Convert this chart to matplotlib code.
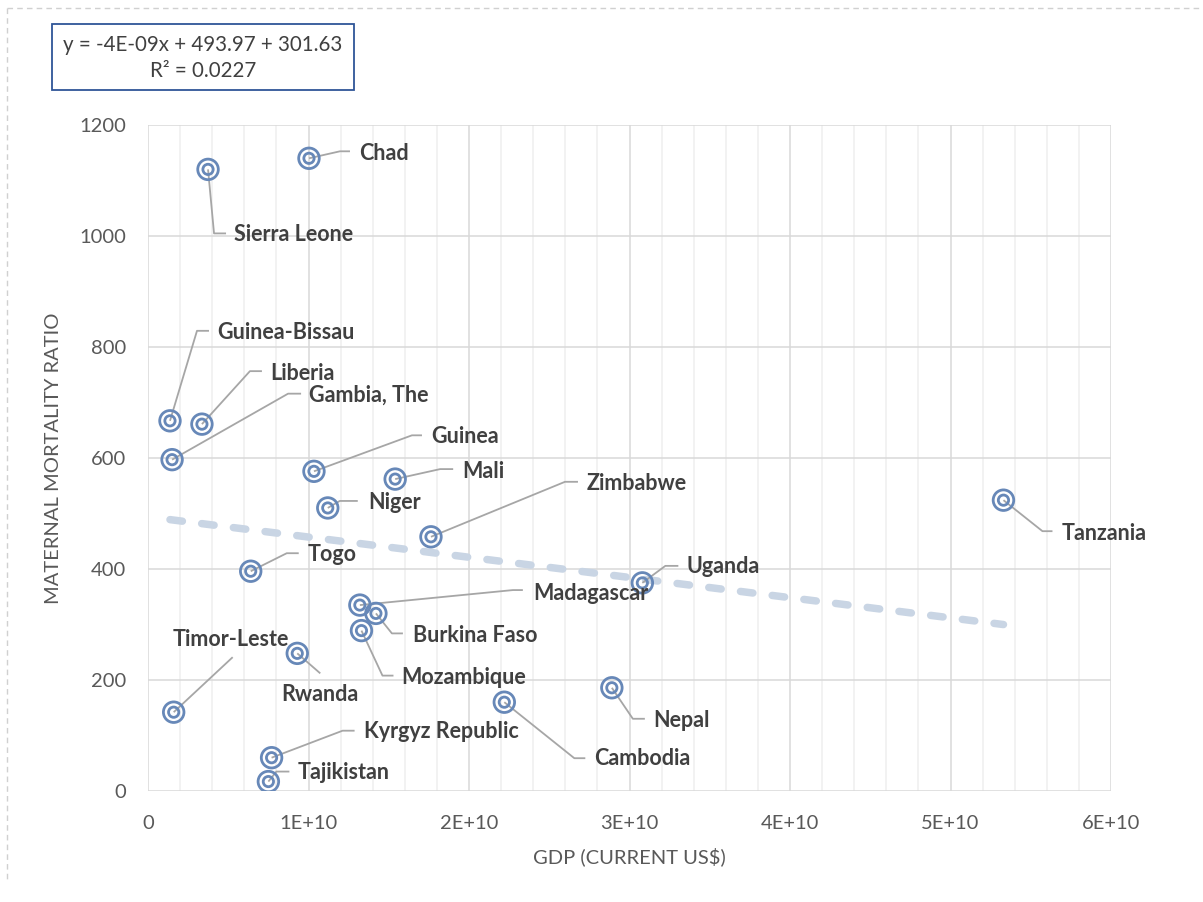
import numpy as np
import matplotlib
matplotlib.use("Agg")
import matplotlib.pyplot as plt
from matplotlib.lines import Line2D
from matplotlib.ticker import MultipleLocator, FuncFormatter

plt.rcParams['font.family'] = ['Lato', 'DejaVu Sans']
plt.rcParams['lines.scale_dashes'] = False

# ---- data -------------------------------------------------------------
countries = ["Chad", "Sierra Leone", "Guinea-Bissau", "Liberia", "Gambia, The",
             "Guinea", "Mali", "Niger", "Zimbabwe", "Togo", "Uganda",
             "Madagascar", "Burkina Faso", "Mozambique", "Tanzania",
             "Timor-Leste", "Rwanda", "Kyrgyz Republic", "Tajikistan",
             "Cambodia", "Nepal"]
gdp = [1.003e10, 0.374e10, 0.137e10, 0.336e10, 0.150e10,
       1.034e10, 1.540e10, 1.120e10, 1.763e10, 0.640e10, 3.080e10,
       1.320e10, 1.420e10, 1.330e10, 5.330e10,
       0.160e10, 0.930e10, 0.770e10, 0.750e10,
       2.220e10, 2.890e10]
mmr = [1140, 1120, 667, 661, 597,
       576, 562, 510, 458, 396, 375,
       335, 320, 289, 524,
       142, 248, 60, 17,
       160, 186]

equation_text = "y = -4E-09x + 493.97 + 301.63\nR² = 0.0227"
x_tick_labels = ["0", "1E+10", "2E+10", "3E+10", "4E+10", "5E+10", "6E+10"]

# ---- label layout: pixel offsets from each marker ----------------------
# (text dx, text dy, elbow dx, elbow dy, stub dx, stub dy); y measured up
label_layout = {
    "Chad":            (50,   5, 31,   7, 41,   7),
    "Sierra Leone":    (26, -65, 6, -64, 18, -64),
    "Guinea-Bissau":   (47,  88, 27,  90, 39,  90),
    "Liberia":         (68,  51, 48,  53, 60,  53),
    "Gambia, The":     (137, 64, 116, 66, 129, 66),
    "Guinea":          (117, 35, 98,  36, 108, 36),
    "Mali":            (67,   8, 45,  10, 58,  10),
    "Niger":           (40,   5, 12,   7, 30,   7),
    "Zimbabwe":        (156, 53, 134, 55, 147, 55),
    "Togo":            (57,  17, 36,  18, 48,  18),
    "Uganda":          (44,  16, 23,  17, 36,  17),
    "Madagascar":      (173, 12, 153, 15, 163, 15),
    "Burkina Faso":    (37, -22, 16, -20, 27, -20),
    "Mozambique":      (40, -47, 21, -45, 32, -45),
    "Tanzania":        (58, -33, 39, -31, 49, -31),
    "Timor-Leste":     (-1,  73, 59,  55, 59,  55),
    "Rwanda":          (-16, -41, 23, -20, 23, -20),
    "Kyrgyz Republic": (92,  26, 71,  27, 83,  27),
    "Tajikistan":      (29,   9, 8,   10, 21,  10),
    "Cambodia":        (90, -56, 70, -56, 81, -56),
    "Nepal":           (41, -33, 21, -31, 33, -31),
}

# ---- figure -----------------------------------------------------------
W, H, DPI = 1203, 902, 100
fig = plt.figure(figsize=(W / DPI, H / DPI), dpi=DPI)
fig.patch.set_facecolor("white")

ax = fig.add_axes([148 / W, 1 - 791 / H, (1111 - 148) / W, (791 - 125) / H])
ax.set_xlim(0, 6e10)
ax.set_ylim(0, 1200)

grey_text = "#595959"
ax.xaxis.set_major_locator(MultipleLocator(1e10))
ax.xaxis.set_minor_locator(MultipleLocator(2e9))
ax.yaxis.set_major_locator(MultipleLocator(200))
ax.xaxis.set_major_formatter(FuncFormatter(lambda v, p: x_tick_labels[int(round(v / 1e10))]
                                           if 0 <= int(round(v / 1e10)) < len(x_tick_labels) else ""))
ax.grid(which="major", axis="both", color="#D9D9D9", linewidth=1.1, zorder=0)
ax.grid(which="minor", axis="x", color="#EFEFEF", linewidth=1.1, zorder=0)
ax.set_axisbelow(True)
for s in ax.spines.values():
    s.set_visible(False)
ax.tick_params(which="both", length=0, colors=grey_text, labelsize=14.5)
ax.tick_params(axis="x", pad=17)
ax.tick_params(axis="y", pad=16)

ax.set_xlabel("GDP (CURRENT US$)", color=grey_text, fontsize=14.5, labelpad=11)
ax.set_ylabel("MATERNAL MORTALITY RATIO", color=grey_text, fontsize=14.5, labelpad=12)

# ---- linear trendline -------------------------------------------------
gx = np.array(gdp)
gy = np.array(mmr)
slope, intercept = np.polyfit(gx, gy, 1)
tx = np.array([gx.min(), gx.max()])
ax.plot(tx, slope * tx + intercept, color="#C9D5E4", linewidth=5.4,
        dashes=(9, 14), dash_capstyle="round", solid_capstyle="round", zorder=2)

# ---- leader lines and labels ------------------------------------------
fig.canvas.draw()
to_disp = ax.transData.transform
to_data = ax.transData.inverted().transform
for name, x, y in zip(countries, gdp, mmr):
    tdx, tdy, edx, edy, sdx, sdy = label_layout[name]
    px, py = to_disp((x, y))
    pts = np.array([[px, py], [px + edx, py + edy], [px + sdx, py + sdy]])
    dpts = to_data(pts)
    ax.plot(dpts[:, 0], dpts[:, 1], color="#A6A6A6", linewidth=1.3, zorder=3,
            solid_capstyle="butt")
    ax.annotate(name, xy=(x, y), xytext=(tdx, tdy), textcoords="offset pixels",
                ha="left", va="center", fontsize=15.5, fontweight="bold",
                color="#404040", zorder=5, annotation_clip=False)

# ---- double-ring markers ----------------------------------------------
ring = "#6788B8"
ax.scatter(gdp, mmr, s=14.8 ** 2, facecolors="none", edgecolors=ring,
           linewidths=2.0, zorder=4)
ax.scatter(gdp, mmr, s=7.4 ** 2, facecolors="none", edgecolors=ring,
           linewidths=2.0, zorder=4)

# ---- equation box -----------------------------------------------------
fig.text(203 / W, 1 - 58 / H, equation_text, ha="center", va="center",
         fontsize=14.8, color="#404040", linespacing=1.35)
fig.add_artist(plt.Rectangle((52 / W, 1 - 90 / H), (354 - 52) / W, (90 - 24) / H,
                             transform=fig.transFigure, fill=False,
                             edgecolor="#2F5597", linewidth=1.3))

# ---- chart-area border (dashed) ---------------------------------------
fig.add_artist(Line2D([7 / W, 1.0], [1 - 8 / H, 1 - 8 / H], transform=fig.transFigure,
                      color="#D0D0D0", linewidth=1.0, dashes=(4, 3)))
fig.add_artist(Line2D([7 / W, 7 / W], [1 - 8 / H, 1 - 880 / H], transform=fig.transFigure,
                      color="#D0D0D0", linewidth=1.0, dashes=(4, 3)))

fig.savefig("out.png", dpi=DPI, facecolor="white")
